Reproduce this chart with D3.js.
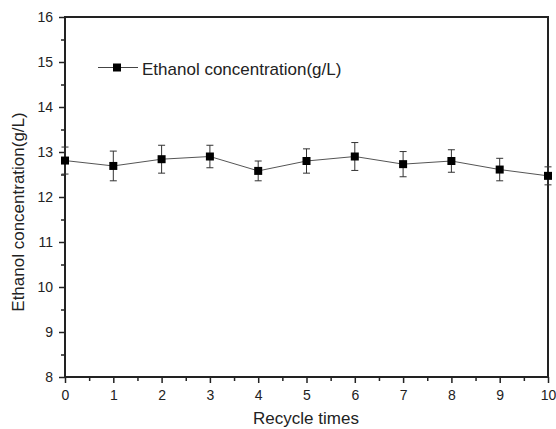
<!DOCTYPE html>
<html>
<head>
<meta charset="utf-8">
<script src="https://cdn.jsdelivr.net/npm/d3@7"></script>
<style>
  body { margin: 0; background: #fff; }
  text { font-family: "Liberation Sans", Arial, sans-serif; fill: #222; }
</style>
</head>
<body>
<script>
// data
var cycles = [0, 1, 2, 3, 4, 5, 6, 7, 8, 9, 10];
var ethanol = [12.81, 12.69, 12.84, 12.90, 12.58, 12.80, 12.90, 12.73, 12.80, 12.61, 12.47];
var errors = [0.30, 0.33, 0.31, 0.25, 0.22, 0.27, 0.31, 0.28, 0.25, 0.25, 0.20];
var yTicks = [8, 9, 10, 11, 12, 13, 14, 15, 16];
var xTicks = [0, 1, 2, 3, 4, 5, 6, 7, 8, 9, 10];

var W = 556, H = 429;
var mLeft = 65, mRight = 548, mTop = 17, mBottom = 377;

var svg = d3.select('body').append('svg')
  .attr('width', W)
  .attr('height', H);

var x = d3.scaleLinear().domain([0, 10]).range([mLeft, mRight]);
var y = d3.scaleLinear().domain([8, 16]).range([mBottom, mTop]);

// minor ticks
svg.append('g')
  .attr('transform', 'translate(0,' + mBottom + ')')
  .call(d3.axisBottom(x).tickValues(d3.range(0.5, 10, 1)).tickSize(4).tickFormat(''))
  .call(function (g) { g.select('.domain').remove(); g.selectAll('line').attr('stroke-width', 1.5).attr('stroke', '#222'); });
svg.append('g')
  .attr('transform', 'translate(' + mLeft + ',0)')
  .call(d3.axisLeft(y).tickValues(d3.range(8.5, 16, 1)).tickSize(4).tickFormat(''))
  .call(function (g) { g.select('.domain').remove(); g.selectAll('line').attr('stroke-width', 1.5).attr('stroke', '#222'); });

// major axes
var xAxis = svg.append('g')
  .attr('transform', 'translate(0,' + mBottom + ')')
  .call(d3.axisBottom(x).tickValues(xTicks).tickSize(6).tickPadding(7).tickFormat(d3.format('d')));
var yAxis = svg.append('g')
  .attr('transform', 'translate(' + mLeft + ',0)')
  .call(d3.axisLeft(y).tickValues(yTicks).tickSize(6).tickPadding(6).tickFormat(d3.format('d')));

[xAxis, yAxis].forEach(function (g) {
  g.select('.domain').remove();
  g.selectAll('line').attr('stroke', '#222').attr('stroke-width', 1.5);
  g.selectAll('text').style('font-size', '14px').style('font-family', '"Liberation Sans", Arial, sans-serif').attr('fill', '#333');
});

// frame
svg.append('rect')
  .attr('x', mLeft).attr('y', mTop)
  .attr('width', mRight - mLeft).attr('height', mBottom - mTop)
  .attr('fill', 'none').attr('stroke', '#222').attr('stroke-width', 2);

// line
var line = d3.line()
  .x(function (d, i) { return x(cycles[i]); })
  .y(function (d) { return y(d); });

svg.append('path')
  .datum(ethanol)
  .attr('d', line)
  .attr('fill', 'none')
  .attr('stroke', '#555')
  .attr('stroke-width', 1);

// error bars
var eb = svg.append('g').attr('stroke', '#333').attr('stroke-width', 1);
ethanol.forEach(function (v, i) {
  var cx = x(cycles[i]);
  eb.append('line').attr('x1', cx).attr('x2', cx).attr('y1', y(v + errors[i])).attr('y2', y(v - errors[i]));
  eb.append('line').attr('x1', cx - 3.5).attr('x2', cx + 3.5).attr('y1', y(v + errors[i])).attr('y2', y(v + errors[i]));
  eb.append('line').attr('x1', cx - 3.5).attr('x2', cx + 3.5).attr('y1', y(v - errors[i])).attr('y2', y(v - errors[i]));
});

// markers
svg.selectAll('rect.pt')
  .data(ethanol)
  .enter().append('rect')
  .attr('class', 'pt')
  .attr('x', function (d, i) { return x(cycles[i]) - 4; })
  .attr('y', function (d) { return y(d) - 4; })
  .attr('width', 8).attr('height', 8)
  .attr('fill', '#000');

// legend
svg.append('line')
  .attr('x1', 98).attr('x2', 138).attr('y1', 67.5).attr('y2', 67.5)
  .attr('stroke', '#444').attr('stroke-width', 1);
svg.append('rect')
  .attr('x', 113).attr('y', 63.5).attr('width', 8).attr('height', 8).attr('fill', '#000');
svg.append('text')
  .attr('x', 142).attr('y', 75)
  .style('font-size', '17px')
  .text('Ethanol concentration(g/L)');

// axis titles
svg.append('text')
  .attr('x', 306).attr('y', 424)
  .attr('text-anchor', 'middle')
  .style('font-size', '17px')
  .text('Recycle times');
svg.append('text')
  .attr('transform', 'translate(24,212) rotate(-90)')
  .attr('text-anchor', 'middle')
  .style('font-size', '17px')
  .text('Ethanol concentration(g/L)');
</script>
</body>
</html>
